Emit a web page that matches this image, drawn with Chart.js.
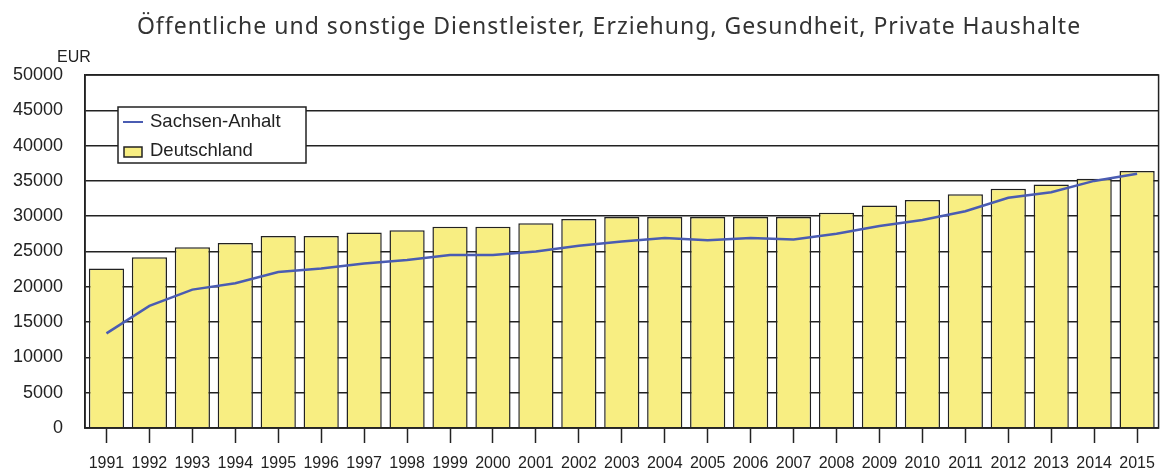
<!DOCTYPE html>
<html>
<head>
<meta charset="utf-8">
<script src="https://cdn.jsdelivr.net/npm/chart.js@4.4.1/dist/chart.umd.min.js"></script>
<style>
  html, body { margin: 0; padding: 0; background: #fff; }
  #wrap { width: 1168px; height: 472px; }
</style>
</head>
<body>
<div id="wrap"><canvas id="chart"></canvas></div>
<script>
// Data
const years = ['1991', '1992', '1993', '1994', '1995', '1996', '1997', '1998', '1999', '2000',
  '2001', '2002', '2003', '2004', '2005', '2006', '2007', '2008', '2009', '2010',
  '2011', '2012', '2013', '2014', '2015'];
const deutschland = [22600, 24200, 25600, 26200, 27200, 27200, 27700, 28000, 28500, 28500,
  29000, 29600, 29900, 29900, 29900, 29900, 29900, 30500, 31500, 32300,
  33100, 33900, 34500, 35300, 36400];
const sachsenAnhalt = [13400, 17300, 19600, 20500, 22100, 22600, 23300, 23800, 24500, 24500,
  25000, 25800, 26400, 26900, 26600, 26900, 26700, 27500, 28600, 29450,
  30700, 32600, 33400, 35000, 36000];
const yTicks = [0, 5000, 10000, 15000, 20000, 25000, 30000, 35000, 40000, 45000, 50000];

const TITLE = 'Öffentliche und sonstige Dienstleister, Erziehung, Gesundheit, Private Haushalte';
const BAR_FILL = '#f8ee82';
const LINE_COLOR = '#4a5cb2';
const INK = '#222222';

// title, frame, unit label and the boxed legend inside the plot
const extras = {
  id: 'extras',
  afterDraw(chart) {
    const ctx = chart.ctx;
    const a = chart.chartArea;
    ctx.save();

    ctx.fillStyle = '#333';
    ctx.font = '23px "Noto Sans", sans-serif';
    ctx.letterSpacing = '1px';
    ctx.textAlign = 'center';
    ctx.textBaseline = 'middle';
    ctx.fillText(TITLE, 609, 27);
    ctx.letterSpacing = '0px';

    ctx.strokeStyle = INK;
    ctx.lineWidth = 1.5;
    ctx.strokeRect(a.left, a.top, a.right - a.left, a.bottom - a.top);

    ctx.fillStyle = INK;
    ctx.font = '16px "Liberation Sans", Arial, sans-serif';
    ctx.textAlign = 'left';
    ctx.fillText('EUR', a.left - 28, a.top - 17);

    // legend box
    const lx = a.left + 33, ly = a.top + 32, lw = 188, lh = 56;
    ctx.fillStyle = '#fff';
    ctx.fillRect(lx, ly, lw, lh);
    ctx.strokeStyle = INK;
    ctx.lineWidth = 1.5;
    ctx.strokeRect(lx, ly, lw, lh);

    const ds = chart.data.datasets;
    const line = ds.find(d => d.type === 'line');
    const bar = ds.find(d => d.type === 'bar');

    ctx.strokeStyle = line.borderColor;
    ctx.lineWidth = 2;
    ctx.beginPath();
    ctx.moveTo(lx + 5, ly + 15);
    ctx.lineTo(lx + 25, ly + 15);
    ctx.stroke();

    ctx.fillStyle = bar.backgroundColor;
    ctx.fillRect(lx + 6, ly + 40, 18, 10);
    ctx.strokeStyle = INK;
    ctx.lineWidth = 1.5;
    ctx.strokeRect(lx + 6, ly + 40, 18, 10);

    ctx.fillStyle = INK;
    ctx.font = '18.5px "Liberation Sans", Arial, sans-serif';
    ctx.fillText(line.label, lx + 32, ly + 15);
    ctx.fillText(bar.label, lx + 32, ly + 44);
    ctx.restore();
  }
};

new Chart(document.getElementById('chart'), {
  data: {
    labels: years,
    datasets: [
      {
        type: 'line',
        label: 'Sachsen-Anhalt',
        data: sachsenAnhalt,
        borderColor: LINE_COLOR,
        borderWidth: 2.5,
        pointRadius: 0,
        tension: 0,
        order: 0
      },
      {
        type: 'bar',
        label: 'Deutschland',
        data: deutschland,
        backgroundColor: BAR_FILL,
        borderColor: INK,
        borderWidth: 1.5,
        barPercentage: 0.82,
        categoryPercentage: 1,
        order: 1
      }
    ]
  },
  options: {
    responsive: true,
    maintainAspectRatio: false,
    animation: false,
    layout: { padding: { left: 0, right: 5, top: 75, bottom: 0 } },
    plugins: {
      legend: { display: false },
      tooltip: { enabled: false },
      title: { display: false }
    },
    scales: {
      x: {
        offset: true,
        afterFit(scale) { scale.height = 44; },
        grid: {
          offset: false,
          drawOnChartArea: false,
          drawTicks: true,
          tickLength: 15,
          tickWidth: 1.5,
          tickColor: INK
        },
        border: { display: true, color: INK, width: 1.5 },
        ticks: {
          color: INK,
          padding: 13,
          maxRotation: 0,
          autoSkip: false,
          font: { family: '"Liberation Sans", Arial, sans-serif', size: 16, lineHeight: 1 }
        }
      },
      y: {
        min: 0,
        max: 50000,
        afterBuildTicks(scale) {
          scale.ticks = yTicks.map(v => ({ value: v }));
        },
        afterFit(scale) { scale.width = 85; },
        grid: { color: INK, lineWidth: 1.5, drawTicks: false },
        border: { display: true, color: INK, width: 1.5 },
        ticks: {
          color: INK,
          padding: 22,
          callback: v => String(v),
          font: { family: '"Liberation Sans", Arial, sans-serif', size: 18 }
        }
      }
    }
  },
  plugins: [extras]
});
</script>
</body>
</html>
